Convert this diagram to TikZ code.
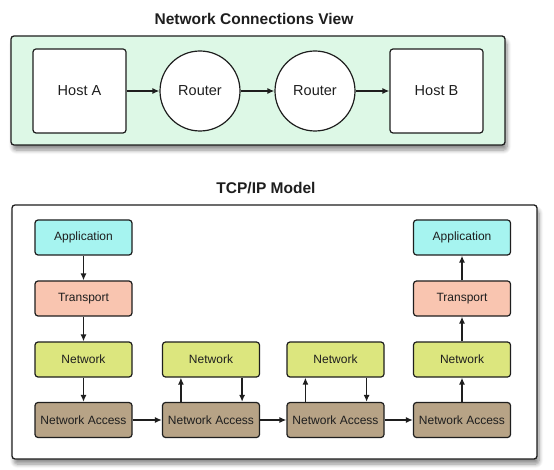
\documentclass[tikz,border=0pt]{standalone}
\usepackage{fontspec}
\setmainfont{Liberation Sans}
\usetikzlibrary{arrows.meta,shadows.blur}
\definecolor{panelgreen}{HTML}{DDF8E6}
\definecolor{appc}{HTML}{A6F4F0}
\definecolor{trc}{HTML}{F9C5B0}
\definecolor{netc}{HTML}{DCE67E}
\definecolor{nac}{HTML}{B7A386}
\definecolor{ink}{HTML}{1E1E1E}
\tikzset{
  panel/.style={draw=ink, line width=1.3pt, rounded corners=3pt,
    blur shadow={shadow xshift=2pt, shadow yshift=-5pt, shadow blur steps=6, shadow opacity=45, shadow blur radius=4pt}},
  title/.style={font=\bfseries\fontsize{15.5}{18}\selectfont, text=ink},
  host/.style={draw=ink, fill=white, line width=1.2pt, rounded corners=3pt, minimum width=93pt, minimum height=84pt, font=\fontsize{14.5}{17}\selectfont, text=ink},
  router/.style={draw=ink, fill=white, line width=1.2pt, circle, minimum size=80pt, inner sep=0pt, font=\fontsize{14.5}{17}\selectfont, text=ink},
  layer/.style={draw=ink, line width=1.2pt, rounded corners=3pt, minimum width=97pt, minimum height=35pt, inner sep=0pt, font=\fontsize{12}{14}\selectfont, text=ink},
  app/.style={layer, fill=appc},
  trn/.style={layer, fill=trc},
  net/.style={layer, fill=netc},
  nacc/.style={layer, fill=nac},
  arr/.style={draw=ink, line width=1.4pt, -{Latex[length=7pt,width=6pt]}},
}
\begin{document}
\begin{tikzpicture}[x=1pt,y=-1pt]
\useasboundingbox (0,0) rectangle (554,470);
% titles
\node[title] (t1) at (254,18.5) {Network Connections View};
\node[title] (t2) at (266,188) {TCP/IP Model};
% panels
\path[panel, fill=panelgreen] (11,36) rectangle (505,145);
\path[panel, fill=white] (12,205) rectangle (537,459);
% top row
\node[host] (ha) at (79.5,91) {Host A};
\node[router] (r1) at (200,91) {Router};
\node[router] (r2) at (315,91) {Router};
\node[host] (hb) at (436.5,91) {Host B};
\draw[arr] (ha) -- (r1);
\draw[arr] (r1) -- (r2);
\draw[arr] (r2) -- (hb);
% TCP/IP model
\node[app] (a1) at (83.5,237.5) {Application};
\node[trn] (tr1) at (83.5,298.5) {Transport};
\node[net] (n1) at (83.5,359.5) {Network};
\node[nacc] (na1) at (83.5,420) {Network Access};
\node[net] (n2) at (211,359.5) {Network};
\node[nacc] (na2) at (211,420) {Network Access};
\node[net] (n3) at (335.5,359.5) {Network};
\node[nacc] (na3) at (335.5,420) {Network Access};
\node[app] (a4) at (462,237.5) {Application};
\node[trn] (tr4) at (462,298.5) {Transport};
\node[net] (n4) at (462,359.5) {Network};
\node[nacc] (na4) at (462,420) {Network Access};
% column 1 down
\draw[arr] (a1) -- (tr1);
\draw[arr] (tr1) -- (n1);
\draw[arr] (n1) -- (na1);
% horizontal
\draw[arr] (na1) -- (na2);
\draw[arr] (na2) -- (na3);
\draw[arr] (na3) -- (na4);
% routers up/down
\draw[arr] ([xshift=19pt]na2.north west) -- ([xshift=19pt]n2.south west);
\draw[arr] ([xshift=-18pt]n2.south east) -- ([xshift=-18pt]na2.north east);
\draw[arr] ([xshift=19pt]na3.north west) -- ([xshift=19pt]n3.south west);
\draw[arr] ([xshift=-18pt]n3.south east) -- ([xshift=-18pt]na3.north east);
% column 4 up
\draw[arr] (na4) -- (n4);
\draw[arr] (n4) -- (tr4);
\draw[arr] (tr4) -- (a4);
\end{tikzpicture}
\end{document}
